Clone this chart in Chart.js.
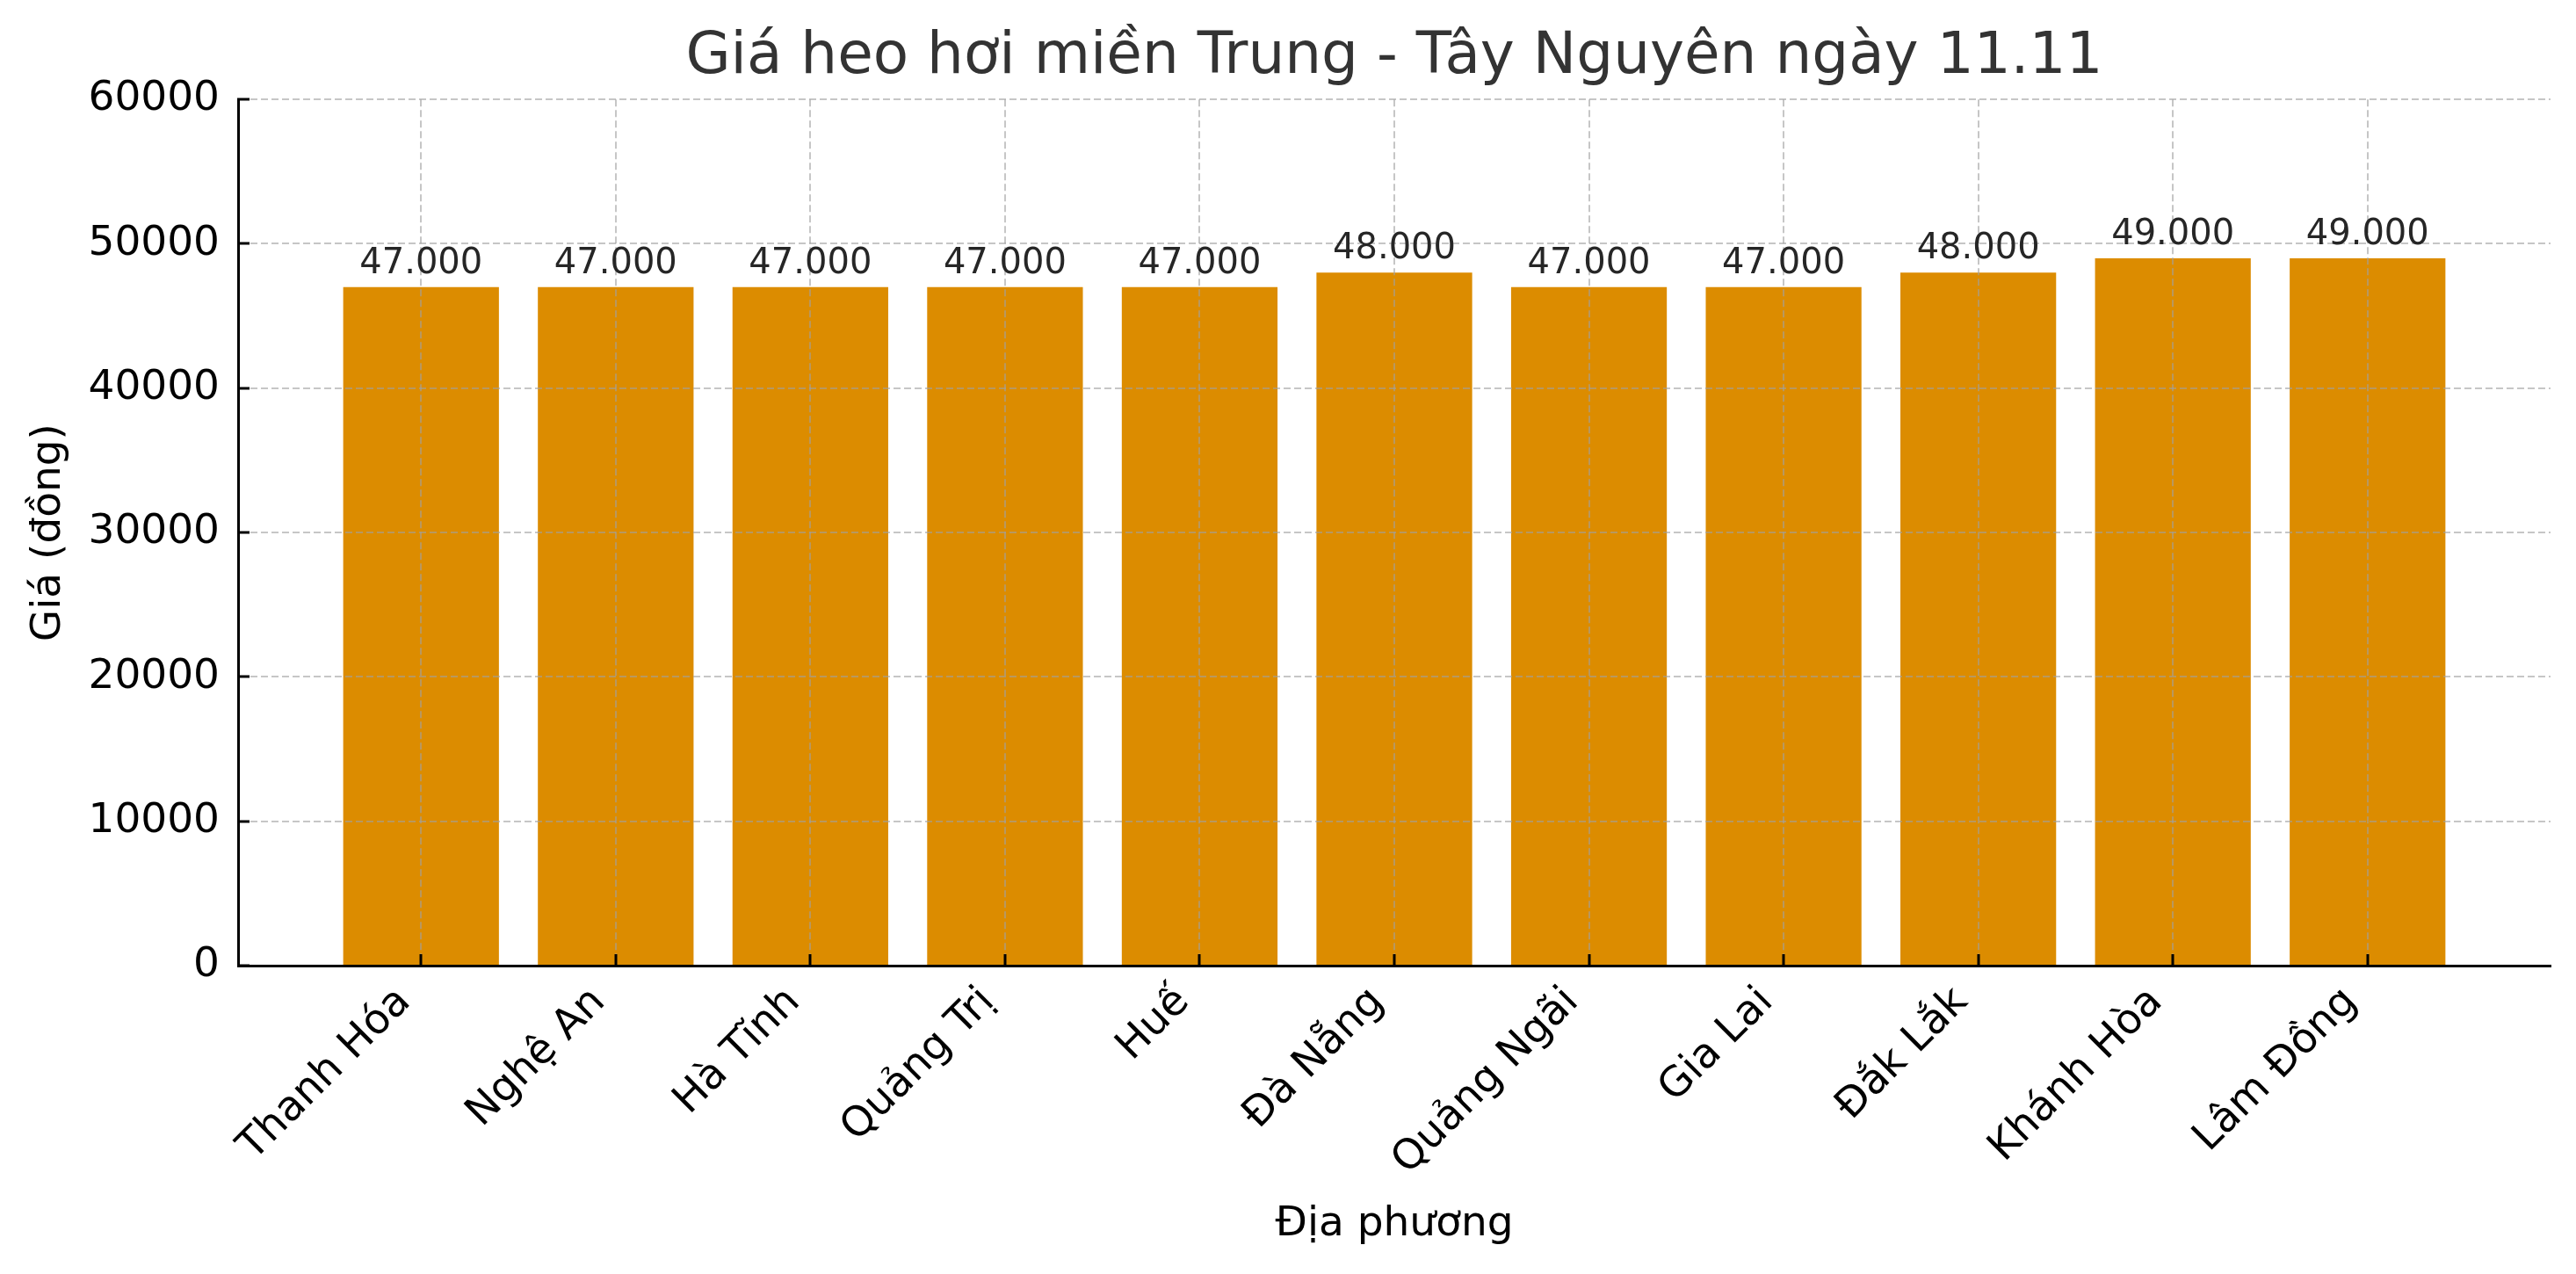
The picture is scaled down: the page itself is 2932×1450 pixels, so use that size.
<!DOCTYPE html>
<html lang="vi">
<head>
<meta charset="utf-8">
<title>Giá heo hơi miền Trung - Tây Nguyên ngày 11.11</title>
<script src="https://cdn.jsdelivr.net/npm/chart.js@4.4.1/dist/chart.umd.min.js"></script>
<style>
    html, body { margin: 0; padding: 0; background: #fff; }
    #wrap { width: 2932px; height: 1450px; }
</style>
</head>
<body>
<div id="wrap"><canvas id="priceChart" width="2932" height="1450"></canvas></div>
<script>
// Data
const provinces = ['Thanh Hóa', 'Nghệ An', 'Hà Tĩnh', 'Quảng Trị', 'Huế', 'Đà Nẵng',
    'Quảng Ngãi', 'Gia Lai', 'Đắk Lắk', 'Khánh Hòa', 'Lâm Đồng'];
const prices = [47000, 47000, 47000, 47000, 47000, 48000, 47000, 47000, 48000, 49000, 49000];
const yTicks = [0, 10000, 20000, 30000, 40000, 50000, 60000];

const FONT = "'DejaVu Sans', sans-serif";
const BAR_COLOR = '#DC8C00';
const GRID_COLOR = 'rgba(160, 160, 160, 0.6)';

// x range like matplotlib: bar half width + 5% margin
const xPad = 0.4 + 0.05 * (provinces.length - 1 + 0.8);

// "47000" -> "47.000"
function formatPrice(v) {
    return String(v).replace(/\B(?=(\d{3})+(?!\d))/g, '.');
}

// Center the title over the plot area, not the whole canvas
const centerTitle = {
    id: 'centerTitle',
    afterLayout(chart) {
        const tb = chart.titleBlock;
        if (!tb) return;
        tb.left = chart.chartArea.left;
        tb.right = chart.chartArea.right;
        tb.width = tb.right - tb.left;
    }
};

// Value labels above the bars
const barValueLabels = {
    id: 'barValueLabels',
    afterDraw(chart) {
        const ctx = chart.ctx;
        const meta = chart.getDatasetMeta(0);
        ctx.save();
        ctx.font = '40px ' + FONT;
        ctx.fillStyle = '#262626';
        ctx.textAlign = 'center';
        ctx.textBaseline = 'alphabetic';
        meta.data.forEach((bar, i) => {
            ctx.fillText(formatPrice(prices[i]), bar.x, bar.y - 16);
        });
        ctx.restore();
    }
};

const gridOpts = {
    color: GRID_COLOR,
    lineWidth: 2,
    z: 1,
    offset: false,
    tickLength: -13,   // inward ticks
    tickColor: '#000',
    tickWidth: 3
};
const borderOpts = { color: '#000', width: 3, dash: [8, 4], z: 2 };

new Chart(document.getElementById('priceChart'), {
    type: 'bar',
    data: {
        datasets: [{
            data: prices.map((p, i) => ({ x: i, y: p })),
            backgroundColor: BAR_COLOR,
            barPercentage: 0.8,
            categoryPercentage: 1.0
        }]
    },
    options: {
        responsive: false,
        devicePixelRatio: 1,
        animation: false,
        layout: { padding: { top: 0, right: 29, bottom: 0, left: 0 } },
        plugins: {
            legend: { display: false },
            tooltip: { enabled: false },
            title: {
                display: true,
                text: 'Giá heo hơi miền Trung - Tây Nguyên ngày 11.11',
                color: '#333',
                font: { family: FONT, size: 66, weight: 'normal' },
                padding: { top: 26, bottom: 8 }
            }
        },
        scales: {
            x: {
                type: 'linear',
                position: 'bottom',
                offset: false,
                min: -xPad,
                max: provinces.length - 1 + xPad,
                afterBuildTicks: axis => {
                    axis.ticks = provinces.map((_, i) => ({ value: i }));
                },
                afterFit: scale => { scale.height = 351; },
                ticks: {
                    callback: v => provinces[v],
                    autoSkip: false,
                    minRotation: 45,
                    maxRotation: 45,
                    padding: 27,
                    labelOffset: -19,
                    color: '#000',
                    font: { family: FONT, size: 47 }
                },
                grid: gridOpts,
                border: borderOpts,
                title: {
                    display: true,
                    text: 'Địa phương',
                    color: '#000',
                    font: { family: FONT, size: 47 },
                    padding: { top: 0, bottom: 28 }
                }
            },
            y: {
                min: 0,
                max: 60000,
                afterBuildTicks: axis => {
                    axis.ticks = yTicks.map(v => ({ value: v }));
                },
                afterFit: scale => { scale.width = 271; },
                ticks: {
                    callback: v => String(v),
                    padding: 34,
                    color: '#000',
                    font: { family: FONT, size: 47 }
                },
                grid: gridOpts,
                border: borderOpts,
                title: {
                    display: true,
                    text: 'Giá (đồng)',
                    color: '#000',
                    font: { family: FONT, size: 47 },
                    padding: { top: 28, bottom: 0 }
                }
            }
        }
    },
    plugins: [centerTitle, barValueLabels]
});
</script>
</body>
</html>
